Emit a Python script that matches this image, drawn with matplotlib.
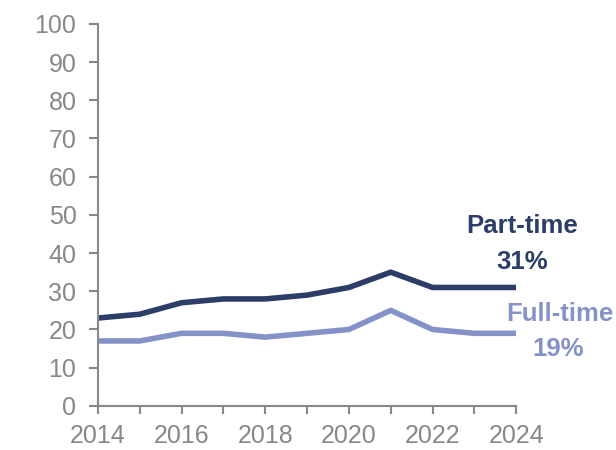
import matplotlib.pyplot as plt
import numpy as np

plt.rcParams['font.family'] = ['Liberation Sans', 'DejaVu Sans']

years = [2014, 2015, 2016, 2017, 2018, 2019, 2020, 2021, 2022, 2023, 2024]
part_time = [23, 24, 27, 28, 28, 29, 31, 35, 31, 31, 31]
full_time = [17, 17, 19, 19, 18, 19, 20, 25, 20, 19, 19]

navy = '#2c3d68'
lilac = '#8592c8'
grey = '#888888'

fig = plt.figure(figsize=(6.16, 4.5), dpi=100)
ax = fig.add_axes([0.159, 0.098, 0.679, 0.849])

ax.plot(years, part_time, color=navy, lw=4, solid_capstyle='butt')
ax.plot(years, full_time, color=lilac, lw=4, solid_capstyle='butt')

ax.set_xlim(2014, 2024)
ax.set_ylim(0, 100)
ax.set_xticks(np.arange(2014, 2025, 1))
ax.set_xticklabels([str(y) if y % 2 == 0 else '' for y in years])
ax.set_yticks(np.arange(0, 101, 10))

for s in ['top', 'right']:
    ax.spines[s].set_visible(False)
for s in ['left', 'bottom']:
    ax.spines[s].set_color(grey)
    ax.spines[s].set_linewidth(1.5)
ax.tick_params(axis='y', direction='out', length=6.5, width=1.5, color=grey,
               labelcolor=grey, labelsize=18, pad=9)
ax.tick_params(axis='x', direction='out', length=6, width=1.5, color=grey,
               labelcolor=grey, labelsize=18, pad=7)

# end labels
lbl = dict(fontsize=18.5, fontweight='bold', ha='center', va='center', clip_on=False)
ax.text(2024.14, 47.1, 'Part-time', color=navy, **lbl)
ax.text(2024.14, 37.7, '31%', color=navy, **lbl)
ax.text(2025.05, 24.1, 'Full-time', color=lilac, **lbl)
ax.text(2025.0, 14.9, '19%', color=lilac, **lbl)

fig.savefig('out.png', dpi=100)
